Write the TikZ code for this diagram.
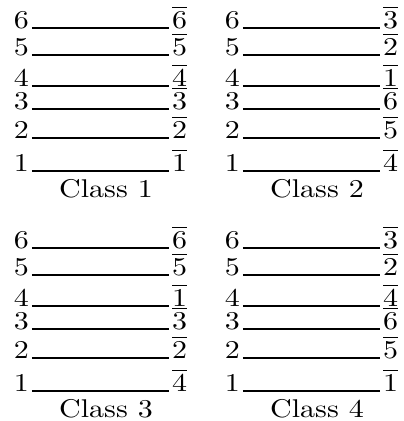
\documentclass[tikz,border=0pt]{standalone}
\usepackage{graphicx}
\usetikzlibrary{positioning}
\newcommand{\wide}[1]{\scalebox{1.17}[1]{#1}}
\begin{document}
\begin{tikzpicture}[x=0.39pt,y=-0.39pt]

\tikzset{digit/.style = {inner xsep=1pt, inner ysep=0pt}}
\tikzset{wire/.style = {line width=0.5pt}}
\tikzset{caption/.style = {inner sep=0pt, anchor=base}}
\useasboundingbox (0,0) rectangle (404,421);

% panels: left end, right end, top offset, class number, right labels from 6 down to 1
\foreach \xl/\xr/\dy/\cls/\perm in {32/169/0/1/{6,5,4,3,2,1}, 243/380/0/2/{3,2,1,6,5,4}, 32/169/220/3/{6,5,1,3,2,4}, 243/380/220/4/{3,2,4,6,5,1}} {
  % rows
  \foreach \row/\ypos [count=\k] in {6/28,5/55,4/86,3/109,2/138,1/171} {
    \pgfmathtruncatemacro\rb{{\perm}[\k-1]}
    \node[digit, anchor=base east] (l\cls-\row) at (\xl,\ypos+\dy) {\wide{$\row$}};
    \node[digit, anchor=base west] (r\cls-\row) at (\xr,\ypos+\dy) {\wide{$\overline{\rb}$}};
    \draw[wire] (l\cls-\row.base east) -- (r\cls-\row.base west);
  }
  % caption
  \node[caption] (c\cls) at (\xl+74,197+\dy) {\wide{Class \cls}};
}

\end{tikzpicture}
\end{document}
